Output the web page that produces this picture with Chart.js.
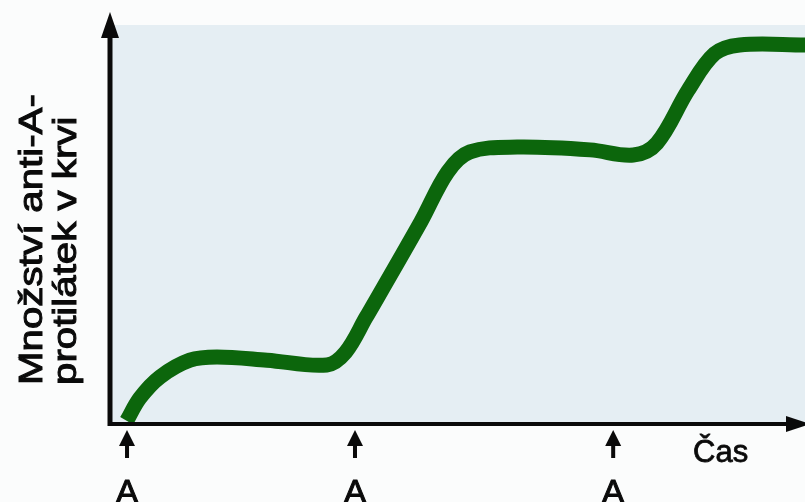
<!DOCTYPE html>
<html>
<head>
<meta charset="utf-8">
<script src="https://cdn.jsdelivr.net/npm/chart.js@4/dist/chart.umd.min.js"></script>
<style>
  body { margin: 0; background: #fbfcfc; }
  canvas { display: block; }
</style>
</head>
<body>
<canvas id="antibodyChart" width="805" height="502"></canvas>
<script>
// time (arbitrary units) and antibody level
const timePoints = [2.4, 4.3, 7.2, 11.5, 15.4, 22.6, 31.2, 33.9, 36.8, 44.7, 48.6, 51.8, 58.6, 69.1, 75.3, 78.7, 83.2, 87.0, 90.6, 100];
const antibodyLevel = [0.8, 6.5, 11.8, 16.0, 16.8, 16.0, 14.8, 18.0, 26.6, 50.6, 63.2, 68.2, 69.4, 68.7, 67.4, 70.4, 83.7, 92.8, 95.0, 95.0];

// moments when antigen A is given
const injectionTimes = [2.45, 35.25, 72.4];
const injectionLabel = 'A';

const yTitleLines = ['Množství anti-A-', 'protilátek v krvi'];
const xTitle = 'Čas';

const FONT = '"Liberation Sans", Arial, sans-serif';

// axes with arrows, small arrows under the ticks, axis titles
const drawingPlugin = {
    id: 'drawing',
    beforeDraw(chart) {
        const { ctx, chartArea: a } = chart;
        ctx.save();
        ctx.fillStyle = '#e5eef3';
        ctx.fillRect(a.left, a.top, a.right - a.left, a.bottom - a.top);
        ctx.restore();
    },
    afterDatasetsDraw(chart) {
        const { ctx, chartArea: a, scales } = chart;
        ctx.save();
        ctx.fillStyle = '#0a0a0a';
        ctx.strokeStyle = '#0a0a0a';

        // y axis
        ctx.lineWidth = 5;
        ctx.beginPath();
        ctx.moveTo(a.left, a.bottom + 2);
        ctx.lineTo(a.left, 30);
        ctx.stroke();
        ctx.beginPath();
        ctx.moveTo(a.left, 12);
        ctx.lineTo(a.left - 9, 38);
        ctx.lineTo(a.left + 9, 38);
        ctx.closePath();
        ctx.fill();

        // x axis
        ctx.lineWidth = 4;
        ctx.beginPath();
        ctx.moveTo(a.left - 2, a.bottom);
        ctx.lineTo(795, a.bottom);
        ctx.stroke();
        ctx.beginPath();
        ctx.moveTo(810, a.bottom);
        ctx.lineTo(786, a.bottom - 8);
        ctx.lineTo(786, a.bottom + 8);
        ctx.closePath();
        ctx.fill();

        // arrows marking each injection
        injectionTimes.forEach(t => {
            const x = scales.x.getPixelForValue(t);
            ctx.beginPath();
            ctx.moveTo(x, a.bottom + 6);
            ctx.lineTo(x - 8, a.bottom + 22);
            ctx.lineTo(x + 8, a.bottom + 22);
            ctx.closePath();
            ctx.fill();
            ctx.fillRect(x - 2, a.bottom + 20, 4, 14);
        });

        // x title
        ctx.lineWidth = 0.8;
        ctx.font = '31px ' + FONT;
        ctx.textAlign = 'left';
        ctx.textBaseline = 'alphabetic';
        ctx.fillText(xTitle, 693, 462);
        ctx.strokeText(xTitle, 693, 462);

        // y title, rotated and a little stretched along the text
        ctx.rotate(-Math.PI / 2);
        ctx.scale(1.22, 1);
        ctx.font = '33px ' + FONT;
        ctx.lineWidth = 1;
        yTitleLines.forEach((line, i) => {
            ctx.fillText(line, -385 / 1.22, 42 + i * 34);
            ctx.strokeText(line, -385 / 1.22, 42 + i * 34);
        });
        ctx.restore();
    }
};

new Chart(document.getElementById('antibodyChart'), {
    type: 'line',
    data: {
        datasets: [{
            data: timePoints.map((t, i) => ({ x: t, y: antibodyLevel[i] })),
            borderColor: '#0c660c',
            borderWidth: 15,
            borderCapStyle: 'butt',
            tension: 0.35,
            pointRadius: 0,
            fill: false
        }]
    },
    options: {
        responsive: false,
        animation: false,
        devicePixelRatio: 1,
        layout: { padding: { top: 25, right: 0, left: 0, bottom: 0 }, autoPadding: false },
        plugins: {
            legend: { display: false },
            tooltip: { enabled: false }
        },
        scales: {
            x: {
                type: 'linear',
                min: 0,
                max: 100,
                grid: { display: false, drawTicks: false },
                border: { display: false },
                afterBuildTicks: scale => {
                    scale.ticks = injectionTimes.map(v => ({ value: v }));
                },
                afterFit: scale => { scale.height = 78; },
                ticks: {
                    autoSkip: false,
                    maxRotation: 0,
                    padding: 49,
                    color: '#0a0a0a',
                    textStrokeColor: '#0a0a0a',
                    textStrokeWidth: 1,
                    font: { family: FONT, size: 34 },
                    callback: () => injectionLabel
                }
            },
            y: {
                min: 0,
                max: 100,
                grid: { display: false, drawTicks: false },
                border: { display: false },
                ticks: { display: false },
                afterFit: scale => { scale.width = 110; }
            }
        }
    },
    plugins: [drawingPlugin]
});
</script>
</body>
</html>
